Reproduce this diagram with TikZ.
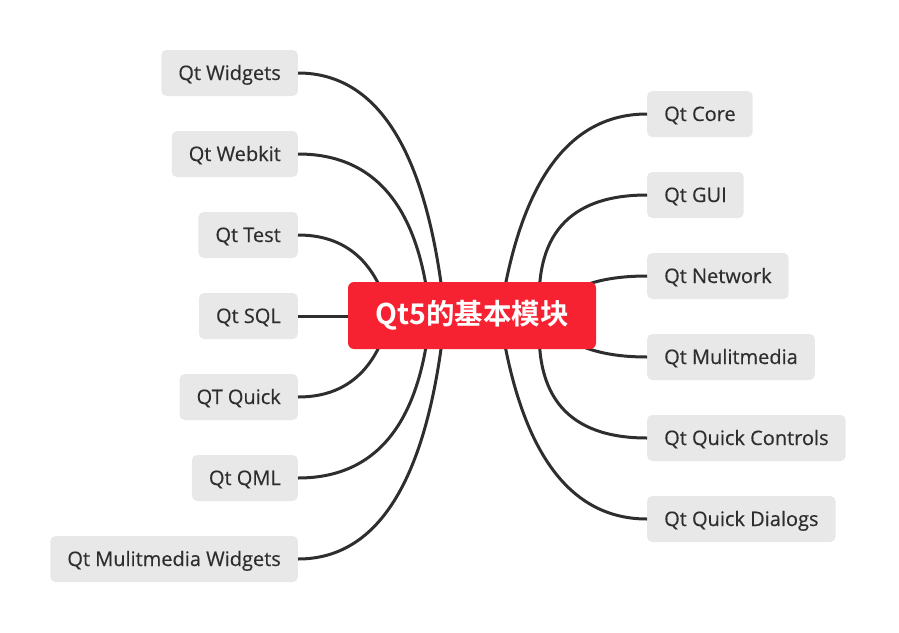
\documentclass[tikz,border=0pt]{standalone}
\usepackage{fontspec}
\setmainfont{Open Sans}[FakeBold=0.4]
\newfontfamily\cjk{Noto Sans CJK SC}[BoldFont={* Bold}]
\usetikzlibrary{calc}
\definecolor{rootred}{HTML}{F62231}
\definecolor{leafgray}{HTML}{E8E8E8}
\definecolor{inkgray}{HTML}{2E2E2E}

\tikzset{
  leaf/.style={fill=leafgray, rounded corners=5pt, inner xsep=17pt, inner ysep=0pt,
    minimum height=46pt, text height=15pt, text depth=1pt, text=inkgray,
    font=\fontsize{20}{22}\selectfont},
  branch/.style={draw=inkgray, line width=3pt},
  rootbox/.style={fill=rootred, rounded corners=6pt, minimum width=248pt,
    minimum height=67pt, text=white, font=\cjk\bfseries\fontsize{28.5}{30}\selectfont}
}

\begin{document}
\begin{tikzpicture}[x=1pt, y=-1pt]

\useasboundingbox (0,0) rectangle (899,632);

% left branches
\foreach \name/\y/\txt in {widgets/73/Qt Widgets, webkit/154/Qt Webkit, test/235/Qt Test,
  sql/316/Qt SQL, quick/397/QT Quick, qml/478/Qt QML, mmwidgets/559/Qt Mulitmedia Widgets}
\node[leaf, anchor=east] (\name) at (298,\y) {\txt};

% right branches
\foreach \name/\y/\txt in {core/114/Qt Core, gui/195/Qt GUI, network/276/Qt Network,
  multimedia/357/Qt Mulitmedia, controls/438/Qt Quick Controls, dialogs/519/Qt Quick Dialogs}
\node[leaf, anchor=west] (\name) at (647,\y) {\txt};

% curves (quadratic, written as cubic), ending under the root box
\foreach \name/\y/\cx/\ex in {widgets/73/420/445, webkit/154/415/430, test/235/370/390,
  quick/397/370/390, qml/478/415/430, mmwidgets/559/420/445}
{
\coordinate (\name-in) at (\ex,316);
\draw[branch] (\name.east) .. controls ($(\name.east)!2/3!(\cx,\y)$)
  and ($(\name-in)!2/3!(\cx,\y)$) .. (\name-in);
}

\coordinate (sql-in) at (400,316);
\draw[branch] (sql.east) -- (sql-in);

\foreach \name/\y/\cx/\ex in {core/114/530/500, gui/195/530/540, network/276/570/545,
  multimedia/357/570/545, controls/438/530/540, dialogs/519/530/500}
{
\coordinate (\name-in) at (\ex,316);
\draw[branch] (\name.west) .. controls ($(\name.west)!2/3!(\cx,\y)$)
  and ($(\name-in)!2/3!(\cx,\y)$) .. (\name-in);
}

\node[rootbox] (root) at (472,315.5) {Qt5的基本模块};

\end{tikzpicture}
\end{document}
